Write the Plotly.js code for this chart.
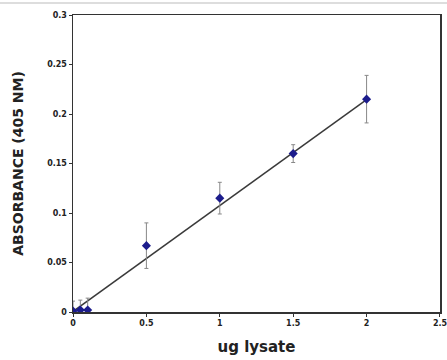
<!DOCTYPE html>
<html><head><meta charset="utf-8">
<script src="https://cdn.plot.ly/plotly-3.0.1.min.js"></script>
<style>html,body{margin:0;padding:0;background:#fff}#chart{width:447px;height:360px}</style>
</head><body><div id="chart"></div>
<script>
var lysate = [0, 0.05, 0.1, 0.5, 1, 1.5, 2];
var absorbance = [0.001, 0.002, 0.002, 0.067, 0.115, 0.160, 0.215];
var errors = [0.010, 0.010, 0.012, 0.023, 0.016, 0.009, 0.024];
var fitX = [0, 2];
var fitY = [0.0005, 0.2145];
var xTicks = [0, 0.5, 1, 1.5, 2, 2.5];
var yTicks = [0, 0.05, 0.1, 0.15, 0.2, 0.25, 0.3];
var yTickText = ['0', '0.05', '0.1', '0.15', '0.2', '0.25', '0.3'];

var data = [
  {x: fitX, y: fitY, mode: 'lines', line: {color: '#3a3a3a', width: 1.5}, hoverinfo: 'skip'},
  {x: lysate, y: absorbance, mode: 'markers',
   marker: {symbol: 'diamond', size: 7, color: '#1c1c8c'},
   error_y: {type: 'data', array: errors, visible: true, color: '#888', thickness: 1, width: 2}}
];
var layout = {
  width: 447, height: 360,
  margin: {l: 73, r: 7, t: 15, b: 48},
  showlegend: false,
  paper_bgcolor: '#fff', plot_bgcolor: '#fff',
  font: {family: 'DejaVu Sans', color: '#222'},
  xaxis: {range: [0, 2.5001], tickvals: xTicks, ticks: 'outside', ticklen: 3, tickcolor: '#333',
    ticklabeloverflow: 'allow',
    showgrid: false, zeroline: false, showline: true, linecolor: '#333', linewidth: 1.5, mirror: true,
    tickfont: {size: 8, family: 'DejaVu Sans', weight: 'bold', color: '#222'},
    title: {text: 'ug lysate', font: {size: 15, family: 'DejaVu Sans', weight: 'bold', color: '#222'}, standoff: 14}},
  yaxis: {range: [0, 0.3], tickvals: yTicks, ticktext: yTickText, ticks: 'outside', ticklen: 3, tickcolor: '#333',
    showgrid: false, zeroline: false, showline: true, linecolor: '#333', linewidth: 1.5, mirror: true,
    tickfont: {size: 8, family: 'DejaVu Sans', weight: 'bold', color: '#222'},
    title: {text: 'ABSORBANCE (405 NM)', font: {size: 14, family: 'DejaVu Sans', weight: 'bold', color: '#222'}, standoff: 20}},
  shapes: [{type: 'line', xref: 'paper', yref: 'paper', x0: -0.2, x1: 1.02, y0: 1.04, y1: 1.04,
    line: {color: '#ddd', width: 2}}]
};
Plotly.newPlot('chart', data, layout, {displayModeBar: false, staticPlot: true});
</script></body></html>
